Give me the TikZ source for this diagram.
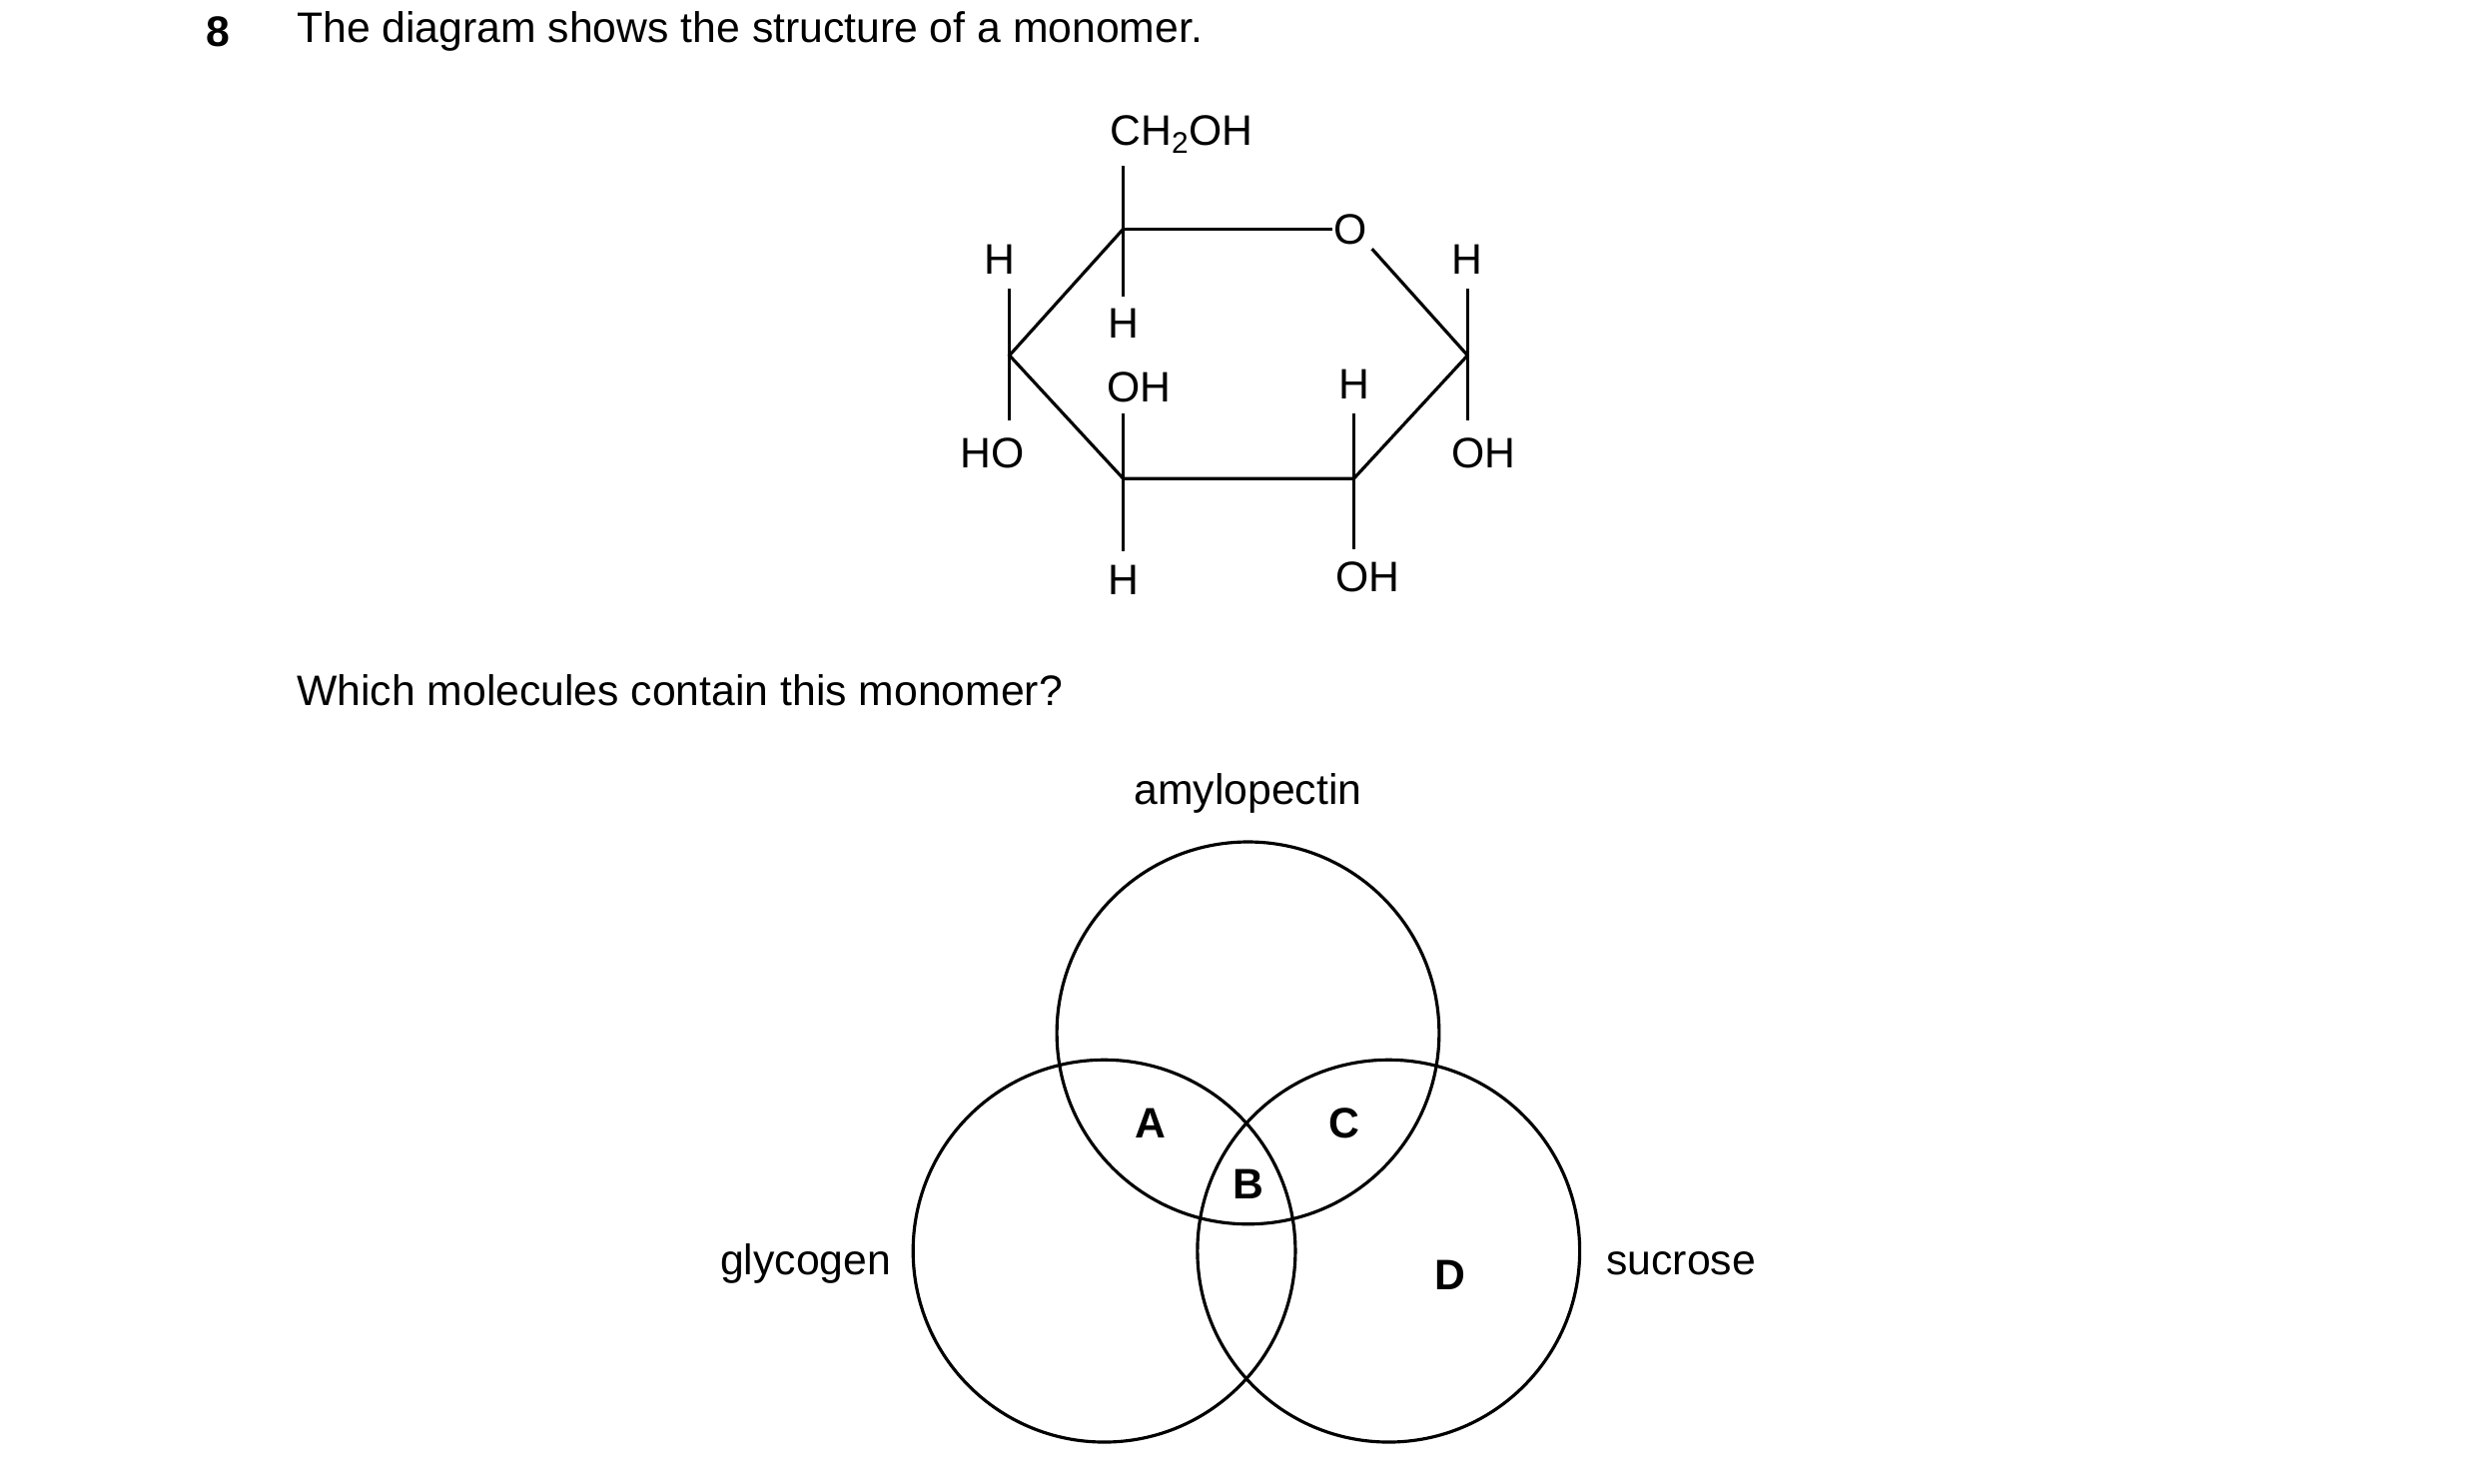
\documentclass[tikz,border=0pt]{standalone}
\usepackage{fontspec}
\setmainfont{Liberation Sans}
\begin{document}
\begin{tikzpicture}[x=1pt,y=-1pt,line width=2pt,
  every node/.style={font=\fontsize{27}{32}\selectfont,inner sep=0pt},
  lab/.style={font=\fontsize{27}{32}\selectfont\bfseries}]
\useasboundingbox (0,0) rectangle (1568,939);
\node[lab] (n8) at (138,20) {8};
\node[anchor=west] (t1) at (187,20) {The diagram shows the structure of a monomer.};
% ring
\node (ch) at (748,85) {CH\textsubscript{2}OH};
\coordinate (c1) at (711,145);
\node (o) at (855,145) {O};
\coordinate (c2) at (929,225);
\coordinate (c3) at (857,303);
\coordinate (c4) at (711,303);
\coordinate (c5) at (639,225);
\draw (c1) -- (o.west);
\draw (o.south east) ++(2,2) -- (c2);
\draw (c2) -- (c3) -- (c4) -- (c5) -- (c1);
\node (h1) at (711,205) {H};
\draw (711,105) -- (c1) -- (711,188);
\node (h5) at (633,164) {H};
\node (ho5) at (628,287) {HO};
\draw (639,183) -- (639,266);
\node (h2) at (929,164) {H};
\node (oh2) at (939,287) {OH};
\draw (929,183) -- (929,266);
\node (oh4) at (721,245) {OH};
\node (h4) at (711,367) {H};
\draw (711,262) -- (c4) -- (711,349);
\node (h3) at (857,243) {H};
\node (oh3) at (866,365) {OH};
\draw (857,262) -- (c3) -- (857,348);
\node[anchor=west] (t2) at (187,437) {Which molecules contain this monomer?};
% venn
\node (am) at (790,502) {amylopectin};
\draw (790,654) circle (121);
\draw (699,792) circle (121);
\draw (879,792) circle (121);
\node[lab] (A) at (728,711) {A};
\node[lab] (B) at (790,750) {B};
\node[lab] (C) at (851,711) {C};
\node[lab] (D) at (918,807) {D};
\node[anchor=east] (gl) at (565,800) {glycogen};
\node[anchor=west] (su) at (1016,800) {sucrose};
\end{tikzpicture}
\end{document}
